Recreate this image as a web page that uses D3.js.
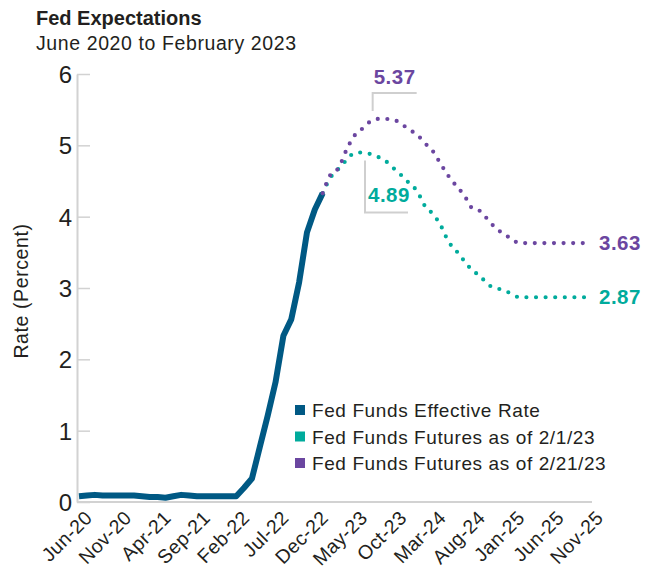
<!DOCTYPE html>
<html>
<head>
<meta charset="utf-8">
<script src="https://cdn.jsdelivr.net/npm/d3@7"></script>
<style>
  body { margin: 0; background: #fff; }
  svg text { font-family: "Liberation Sans", Arial, sans-serif; fill: #231f20; }
</style>
</head>
<body>
<div id="chart"></div>
<script>
// month index 0 = Jun-20
var xTickLabels = ['Jun-20','Nov-20','Apr-21','Sep-21','Feb-22','Jul-22','Dec-22',
                   'May-23','Oct-23','Mar-24','Aug-24','Jan-25','Jun-25','Nov-25']
var yTicks = [0,1,2,3,4,5,6]

// Fed funds effective rate, Jun-20 .. Jan-23
var effective = [0.08,0.09,0.10,0.09,0.09,0.09,0.09,0.09,0.08,0.07,0.07,0.06,0.08,0.10,
                 0.09,0.08,0.08,0.08,0.08,0.08,0.08,0.20,0.33,0.77,1.21,1.68,2.33,2.56,
                 3.08,3.78,4.10,4.33]

// futures, Jan-23 .. Nov-25
var futuresStart = 31
var futures0201 = [4.33,4.55,4.67,4.79,4.89,4.90,4.88,4.84,4.78,4.68,4.58,4.47,4.36,4.15,
                   4.04,3.88,3.65,3.52,3.38,3.25,3.17,3.05,3.00,2.97,2.92,2.87,2.87,2.87,
                   2.87,2.87,2.87,2.87,2.87,2.87,2.87]
var futures0221 = [4.33,4.59,4.68,4.93,5.13,5.23,5.33,5.37,5.37,5.36,5.30,5.22,5.15,5.03,
                   4.92,4.74,4.57,4.43,4.30,4.12,4.08,3.96,3.84,3.76,3.69,3.63,3.63,3.63,
                   3.63,3.63,3.63,3.63,3.63,3.63,3.63]

var legendNames = ['Fed Funds Effective Rate','Fed Funds Futures as of 2/1/23','Fed Funds Futures as of 2/21/23']
var colors = ['#005984','#00ab9c','#6b46a0']

var W = 654, H = 569

var svg = d3.select('#chart').append('svg')
            .attr('width', W).attr('height', H)

var x = d3.scaleLinear().domain([0,65]).range([79,590])
var y = d3.scaleLinear().domain([0,6]).range([502,74])

// titles
svg.append('text').attr('x',36).attr('y',25)
   .style('font-size','20px').style('font-weight','bold')
   .text('Fed Expectations')
svg.append('text').attr('x',36).attr('y',50)
   .style('font-size','19.5px').style('letter-spacing','0.6px')
   .text('June 2020 to February 2023')

// y axis
var yAxis = d3.axisLeft(y).tickValues(yTicks).tickSize(-13).tickPadding(5).tickSizeOuter(0)
              .tickFormat(d3.format('d'))
var gy = svg.append('g').attr('transform','translate(77,0)').call(yAxis)
gy.select('.domain').attr('stroke','#d2d2d2').attr('stroke-width',2)
gy.selectAll('.tick line').attr('stroke','#d2d2d2').attr('stroke-width',1.5)
gy.selectAll('.tick text').style('font-size','24px').attr('dy','0.36em')

svg.append('text')
   .attr('transform','translate(28,291) rotate(-90)')
   .attr('text-anchor','middle')
   .style('font-size','19.5px').style('letter-spacing','0.6px')
   .text('Rate (Percent)')

// x axis
var xAxis = d3.axisBottom(x).tickValues(d3.range(0,66,5)).tickSize(0).tickSizeOuter(0)
              .tickFormat(function(d,i){ return xTickLabels[i] })
var gx = svg.append('g').attr('transform','translate(0,502)').call(xAxis)
gx.select('.domain').attr('stroke','#d2d2d2').attr('stroke-width',2)
  .attr('d','M77,0H592')
gx.selectAll('.tick text')
  .style('font-size','19.5px').style('letter-spacing','0.4px')
  .attr('text-anchor','end')
  .attr('dy',null).attr('y',0)
  .attr('transform','translate(14,17) rotate(-45)')

// lines
var line = d3.line().x(function(d){ return x(d[0]) }).y(function(d){ return y(d[1]) })
var smooth = d3.line().x(function(d){ return x(d[0]) }).y(function(d){ return y(d[1]) })
               .curve(d3.curveMonotoneX)

var effData = effective.map(function(v,i){ return [i,v] })
svg.append('path').datum(effData)
   .attr('d', line).attr('fill','none')
   .attr('stroke',colors[0]).attr('stroke-width',6)
   .attr('stroke-linejoin','round')

function dotted(values, color){
  var data = values.map(function(v,i){ return [futuresStart+i, v] })
  svg.append('path').datum(data)
     .attr('d', smooth).attr('fill','none')
     .attr('stroke',color).attr('stroke-width',4.2)
     .attr('stroke-linecap','round')
     .attr('stroke-dasharray','0 9.6')
}
dotted(futures0201, colors[1])
dotted(futures0221, colors[2])

// annotations
var bracket = '#cfcfcf'
function peakOf(values){
  var m = d3.max(values)
  var idx = values.indexOf(m)
  return {i: futuresStart+idx, v: m}
}
var p2 = peakOf(futures0221)
var px = x(p2.i + 0.5) - 9, py = y(p2.v)
svg.append('path')
   .attr('d','M'+px+','+(py-8)+'V'+(py-26)+'H'+(px+44))
   .attr('fill','none').attr('stroke',bracket).attr('stroke-width',2)
svg.append('text').attr('x',px+1).attr('y',py-35)
   .style('font-size','20.5px').style('font-weight','bold').style('letter-spacing','0.5px')
   .style('fill',colors[2]).text(p2.v.toFixed(2))

var p1 = peakOf(futures0201)
var qx = x(p1.i) + 3, qy = y(p1.v)
svg.append('path')
   .attr('d','M'+qx+','+(qy+8)+'V'+(qy+60)+'H'+(qx+43))
   .attr('fill','none').attr('stroke',bracket).attr('stroke-width',2)
svg.append('text').attr('x',qx+3).attr('y',qy+50)
   .style('font-size','20.5px').style('font-weight','bold').style('letter-spacing','0.5px')
   .style('fill',colors[1]).text('4.89')

var ends = [[futures0221, colors[2]],[futures0201, colors[1]]]
ends.forEach(function(e){
  var v = e[0][e[0].length-1]
  svg.append('text').attr('x',599).attr('y',y(v)+7)
     .style('font-size','20.5px').style('font-weight','bold').style('letter-spacing','0.5px')
     .style('fill',e[1]).text(v.toFixed(2))
})

// legend
var lg = svg.append('g').attr('transform','translate(295,417)')
legendNames.forEach(function(name,i){
  var row = lg.append('g').attr('transform','translate(0,'+(i*26.5)+')')
  row.append('rect').attr('x',0).attr('y',-12).attr('width',10).attr('height',10)
     .attr('fill',colors[i])
  row.append('text').attr('x',17).attr('y',0)
     .style('font-size','19px').style('letter-spacing','0.6px')
     .text(name)
})
</script>
</body>
</html>
